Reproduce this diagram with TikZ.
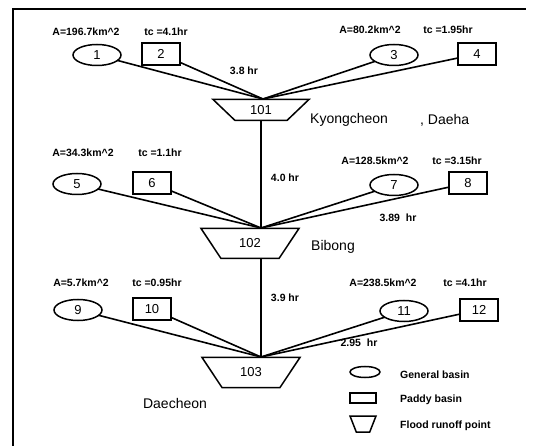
\documentclass[tikz,border=0pt]{standalone}
\usepackage{fontspec}
\setmainfont{Liberation Sans}
\usetikzlibrary{shapes.geometric}
\begin{document}
\begin{tikzpicture}[x=1pt,y=-1pt,
  shapeline/.style={draw, line width=1.5pt, inner sep=0pt, outer sep=0pt},
  basin/.style={shapeline, ellipse, minimum width=48pt, minimum height=21pt,
    font=\fontsize{13}{15}\selectfont},
  paddy/.style={shapeline, rectangle, minimum width=38pt, minimum height=22pt,
    font=\fontsize{13}{15}\selectfont},
  outlet/.style={shapeline, trapezium, shape border rotate=180,
    trapezium stretches=true, font=\fontsize{13}{15}\selectfont},
  lbl/.style={font=\fontsize{10.5}{12}\selectfont\bfseries, inner sep=0pt},
  place/.style={font=\fontsize{14}{16}\selectfont, inner sep=0pt, anchor=west},
  legendtext/.style={font=\fontsize{10.5}{12}\selectfont\bfseries, inner sep=0pt, anchor=west},
  flow/.style={line width=1.6pt},
]
\useasboundingbox (0,0) rectangle (533,446);

% frame
\draw[line width=1.8pt] (13,446) -- (13,9) -- (526,9);

% outlets
\node[outlet, trapezium angle=45, minimum width=96pt, minimum height=21pt] (t101) at (261,110) {101};
\node[outlet, trapezium angle=51, minimum width=98pt, minimum height=30pt] (t102) at (250,243.5) {102};
\node[outlet, trapezium angle=51, minimum width=98pt, minimum height=30pt] (t103) at (251,372.5) {103};

% junctions on the outlets
\coordinate (j1) at (263,99);
\coordinate (j2) at (261,228);
\coordinate (j2b) at (261,258);
\coordinate (j3) at (261,357);

% basins, upper group
\node[basin] (e1) at (97,55) {1};
\node[paddy] (b2) at (161,54) {2};
\node[basin] (e3) at (394,55) {3};
\node[paddy] (b4) at (477,54) {4};
% middle group
\node[basin] (e5) at (77,184) {5};
\node[paddy] (b6) at (152,183) {6};
\node[basin] (e7) at (394,185) {7};
\node[paddy] (b8) at (468,183) {8};
% lower group
\node[basin] (e9) at (78,310) {9};
\node[paddy] (b10) at (152,309) {10};
\node[basin] (e11) at (404,311) {11};
\node[paddy] (b12) at (479,310) {12};

% connectors
\foreach \s in {e1,b2,e3,b4} \draw[flow] (\s) -- (j1);
\foreach \s in {e5,b6,e7,b8} \draw[flow] (\s) -- (j2);
\foreach \s in {e9,b10,e11,b12} \draw[flow] (\s) -- (j3);
\draw[flow] (t101.south) -- (j2);
\draw[flow] (j2b) -- (j3);

% labels
\node[lbl] (a1) at (86,32) {A=196.7km\textasciicircum2};
\node[lbl] (c2) at (166,32) {tc =4.1hr};
\node[lbl] (h1) at (244,71) {3.8 hr};
\node[lbl] (a3) at (370,30) {A=80.2km\textasciicircum2};
\node[lbl] (c4) at (448,30) {tc =1.95hr};
\node[place] (p1) at (310,120) {Kyongcheon};
\node[place] (p1b) at (420,120) {, Daeha};

\node[lbl] (a5) at (83,153) {A=34.3km\textasciicircum2};
\node[lbl] (c6) at (160,153) {tc =1.1hr};
\node[lbl] (h2) at (285,178) {4.0 hr};
\node[lbl] (a7) at (375,161) {A=128.5km\textasciicircum2};
\node[lbl] (c8) at (457,161) {tc =3.15hr};
\node[lbl] (h3) at (398,218) {3.89\ \ hr};
\node[place] (p2) at (311,247) {Bibong};

\node[lbl] (a9) at (81,283) {A=5.7km\textasciicircum2};
\node[lbl] (c10) at (157,283) {tc =0.95hr};
\node[lbl] (h4) at (285,298) {3.9 hr};
\node[lbl] (a11) at (383,283) {A=238.5km\textasciicircum2};
\node[lbl] (c12) at (465,283) {tc =4.1hr};
\node[lbl] (h5) at (359,343) {2.95\ \ hr};
\node[place, anchor=center] (p3) at (175,403) {Daecheon};

% legend
\node[basin, minimum width=30pt, minimum height=11pt] (lg1) at (365,372) {};
\node[paddy, minimum width=26pt, minimum height=10pt] (lg2) at (363,398) {};
\node[outlet, inner sep=1pt, trapezium angle=65, minimum width=26pt, minimum height=16pt] (lg3) at (363,424) {};
\node[legendtext] (lt1) at (400,375) {General basin};
\node[legendtext] (lt2) at (400,400) {Paddy basin};
\node[legendtext] (lt3) at (400,426) {Flood runoff point};
\end{tikzpicture}
\end{document}
